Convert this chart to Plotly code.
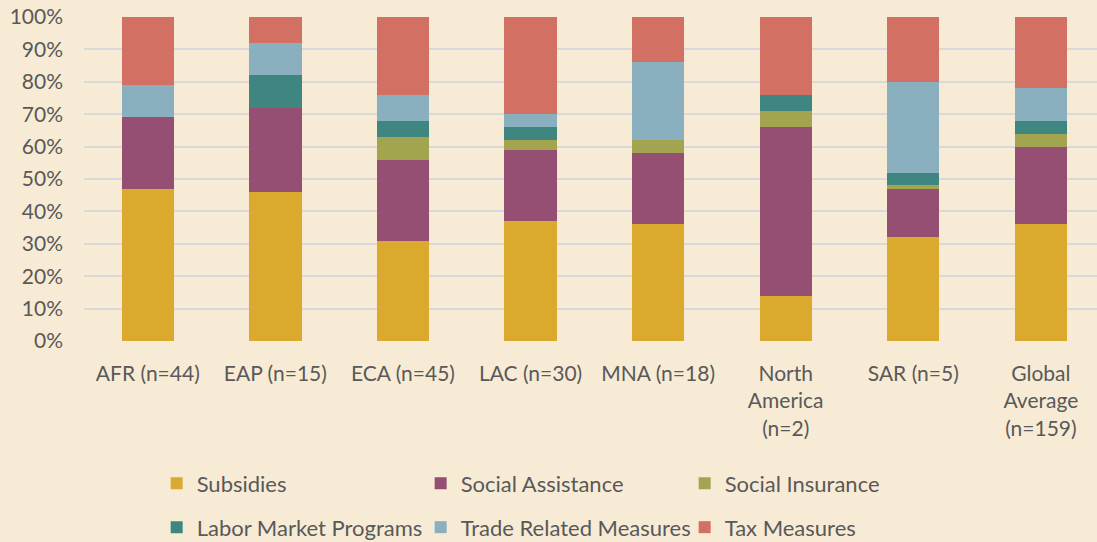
import plotly.graph_objects as go

categories = ["AFR (n=44)", "EAP (n=15)", "ECA (n=45)", "LAC (n=30)", "MNA (n=18)",
              "North<br>America<br>(n=2)", "SAR (n=5)", "Global<br>Average<br>(n=159)"]

subsidies = [47, 46, 31, 37, 36, 14, 32, 36]
social_assistance = [22, 26, 25, 22, 22, 52, 15, 24]
social_insurance = [0, 0, 7, 3, 4, 5, 1, 4]
labor_market = [0, 10, 5, 4, 0, 5, 4, 4]
trade_related = [10, 10, 8, 4, 24, 0, 28, 10]
tax_measures = [21, 8, 24, 30, 14, 24, 20, 22]

series = [
    ("Subsidies", subsidies, "#DAA92E", "legend"),
    ("Social Assistance", social_assistance, "#954F72", "legend"),
    ("Social Insurance", social_insurance, "#A3A450", "legend"),
    ("Labor Market Programs", labor_market, "#408680", "legend2"),
    ("Trade Related Measures", trade_related, "#8AB0BF", "legend2"),
    ("Tax Measures", tax_measures, "#D27063", "legend2"),
]

fig = go.Figure()
for name, vals, color, lg in series:
    fig.add_trace(go.Bar(
        x=categories, y=[v / 100 for v in vals], name=name,
        marker=dict(color=color, line=dict(width=0)),
        legend=lg,
    ))

font_family = "Lato, 'Open Sans', sans-serif"
text_color = "#595959"
bg = "#F7EBD5"

legend_common = dict(
    orientation="h", xanchor="left", yanchor="middle",
    xref="container", yref="container", x=0.1428,
    font=dict(family=font_family, size=22, color=text_color),
    entrywidth=219, entrywidthmode="pixels", itemwidth=30,
    bgcolor="rgba(0,0,0,0)", traceorder="normal",
)

fig.update_layout(
    barmode="stack",
    bargap=0.59,
    width=1097, height=542,
    paper_bgcolor=bg, plot_bgcolor=bg,
    margin=dict(l=84, r=0, t=17, b=201, autoexpand=False),
    font=dict(family=font_family, size=20, color=text_color),
    legend=dict(y=0.108, **legend_common),
    legend2=dict(y=0.027, **legend_common),
    xaxis=dict(
        type="category", range=[-0.5, 7.44], showgrid=False, zeroline=False,
        showline=False, ticks="", ticklabelstandoff=18, automargin=False,
        tickfont=dict(family=font_family, size=21, color=text_color),
    ),
    yaxis=dict(
        range=[0, 1], tickformat=".0%", dtick=0.1, showgrid=True,
        gridcolor="#D9D9D9", gridwidth=1.5, zeroline=False, showline=False,
        ticks="", ticklabelstandoff=20, automargin=False,
        tickfont=dict(family=font_family, size=21, color=text_color),
    ),
)

fig.write_html("out.html", config={"displayModeBar": False},
               post_script="document.body.style.margin='0';")
